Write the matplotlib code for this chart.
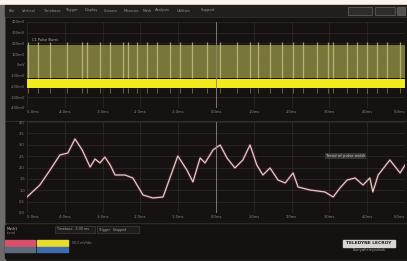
import matplotlib
matplotlib.use('Agg')
import matplotlib.pyplot as plt
from matplotlib.patches import Rectangle

# --- data (divisions) ---
# lower trace (math / trend)
trend_t = [0.00, 0.34, 0.61, 0.87, 1.08, 1.27, 1.46, 1.67, 1.80, 1.93, 2.06, 2.20,
           2.33, 2.59, 2.80, 3.07, 3.33, 3.60, 3.78, 3.99, 4.23, 4.39, 4.58, 4.71,
           4.92, 5.11, 5.29, 5.50, 5.71, 5.90, 6.08, 6.24, 6.43, 6.64, 6.83, 7.04,
           7.17, 7.49, 7.88, 8.10, 8.28, 8.47, 8.68, 8.89, 9.07, 9.15, 9.29, 9.60,
           9.87, 10.00]
trend_v = [1.41, 2.46, 3.78, 5.10, 5.27, 6.51, 5.54, 4.04, 4.75, 4.40, 4.92, 4.22,
           3.34, 3.34, 3.08, 1.58, 1.32, 1.41, 3.08, 5.01, 3.78, 2.73, 4.84, 4.40,
           5.54, 5.98, 4.84, 3.96, 4.66, 5.98, 4.22, 3.34, 3.96, 2.90, 2.64, 3.52,
           2.29, 2.02, 1.85, 1.41, 2.20, 2.90, 3.08, 2.46, 3.08, 1.85, 3.34, 4.66,
           3.52, 4.22]

# upper trace: bright pulse positions, envelope levels
pulse_t = [0.03, 0.29, 0.61, 1.06, 1.46, 1.59, 1.93, 2.20, 2.54, 2.67, 2.91, 3.17,
           3.44, 3.78, 4.05, 4.37, 4.76, 5.11, 5.56, 5.90, 6.11, 6.43, 6.75, 7.04,
           7.30, 7.67, 7.96, 8.10, 8.47, 8.73, 8.99, 9.26, 9.52, 9.87]
env_top = 5.86
env_high = 2.79
band_top = 2.70
band_bot = 1.86

xtick_labels = ['-5.0ms', '-4.0ms', '-3.0ms', '-2.0ms', '-1.0ms', '0.0ms',
                '1.0ms', '2.0ms', '3.0ms', '4.0ms', '5.0ms']
ytick_top = ['-400mV', '-300mV', '-200mV', '-100mV', '0mV', '100mV', '200mV', '300mV', '400mV']
ytick_bot = ['0.0', '0.5', '1.0', '1.5', '2.0', '2.5', '3.0', '3.5', '4.0']
menu_items = ['File', 'Vertical', 'Timebase', 'Trigger', 'Display', 'Cursors',
              'Measure', 'Math', 'Analysis', 'Utilities', 'Support']

BG = '#1b1817'
GRID = '#36312f'
TXT = '#8c8684'

fig = plt.figure(figsize=(4.07, 2.61), dpi=100, facecolor=BG)

# full-frame canvas in pixel coordinates for the instrument chrome
bg = fig.add_axes([0, 0, 1, 1])
bg.set_xlim(0, 407)
bg.set_ylim(261, 0)
bg.axis('off')
bg.add_patch(Rectangle((0, 0), 407, 5, color='#fbf3ee'))
bg.add_patch(Rectangle((0, 5), 5, 256, color='#6d6a6c'))
bg.add_patch(Rectangle((5, 5), 402, 11, color='#211e1d'))
x = 9
for item in menu_items:
    bg.text(x, 10.5, item, color='#9a9492', fontsize=2.6, va='center')
    x += 4 + len(item) * 2.2
bg.add_patch(Rectangle((348, 7), 24, 8, fc='#2e2b2a', ec='#6a6564', lw=0.5))
bg.add_patch(Rectangle((375, 7), 20, 8, fc='#2e2b2a', ec='#6a6564', lw=0.5))
bg.add_patch(Rectangle((397, 7), 8, 8, fc='#55504f', ec='#6a6564', lw=0.5))
bg.add_patch(Rectangle((5, 17), 402, 104, fc='#151211', ec='#3a3534', lw=0.5))
bg.add_patch(Rectangle((5, 121), 402, 102, fc='#151211', ec='#3a3534', lw=0.5))
bg.text(32, 41, 'C1 Pulse Burst', color='#b8b2a0', fontsize=2.6)

# bottom info panel
bg.add_patch(Rectangle((5, 225), 402, 33, color='#141110'))
bg.text(7, 228.5, 'Math1', color='#c8c2c0', fontsize=2.6, va='center')
bg.text(7, 233, 'trend', color='#8c8684', fontsize=2.4, va='center')
bg.add_patch(Rectangle((55, 226), 40, 7, fc='#1f1c1b', ec='#4a4544', lw=0.4))
bg.text(57, 229.5, 'Timebase  -5.00 ms', color='#a8a2a0', fontsize=2.3, va='center')
bg.add_patch(Rectangle((97, 226), 42, 7, fc='#1f1c1b', ec='#4a4544', lw=0.4))
bg.text(99, 229.5, 'Trigger   Stopped', color='#a8a2a0', fontsize=2.3, va='center')
bg.add_patch(Rectangle((5, 240), 30, 6, color='#d8506a'))
bg.add_patch(Rectangle((37, 240), 31, 6, color='#e6dc2c'))
bg.add_patch(Rectangle((5, 247), 30, 5, color='#5f6a7a'))
bg.add_patch(Rectangle((37, 247), 31, 5, color='#3f6cae'))
bg.text(72, 243, '50.0 mV/div', color='#8c8684', fontsize=2.3, va='center')
bg.add_patch(Rectangle((343, 240), 52, 7, color='#d8d4d2'))
bg.text(369, 243.5, 'TELEDYNE LECROY', color='#1b1817', fontsize=3.2,
        ha='center', va='center', weight='bold')
bg.text(369, 250, 'Everywhereyoulook', color='#a8a2a0', fontsize=2.4,
        ha='center', va='center')

# --- upper pane ---
ax1 = fig.add_axes([27 / 407, 1 - 108 / 261, 378 / 407, 86 / 261])
ax1.set_facecolor('none')
ax1.set_xlim(0, 10)
ax1.set_ylim(0, 8)
ax1.fill_between([0, 10], env_high, env_top, color='#85823e', alpha=0.9, lw=0, zorder=2)
ax1.vlines(pulse_t, env_high, env_top + 0.25, color='#cbc78e', lw=0.9, alpha=0.75, zorder=3)
ax1.vlines(pulse_t, band_bot - 0.5, band_bot, color='#8a8650', lw=0.5, zorder=3)
ax1.fill_between([0, 10], band_bot, band_top, color='#f2ea1a', lw=0, zorder=4)

# --- lower pane ---
ax2 = fig.add_axes([27 / 407, 1 - 213 / 261, 378 / 407, 91 / 261])
ax2.set_facecolor('none')
ax2.set_xlim(0, 10)
ax2.set_ylim(0, 8)
ax2.plot(trend_t, trend_v, color='#a02832', lw=2.2, alpha=0.35, zorder=3)
ax2.plot(trend_t, trend_v, color='#d6d0d0', lw=0.9, zorder=4)
ax2.text(7.9, 4.9, 'Trend of pulse width', color='#d0caca', fontsize=2.8,
         bbox=dict(fc='#3a3534', ec='none', pad=0.6), zorder=5)

for ax, ylabels in ((ax1, ytick_top), (ax2, ytick_bot)):
    ax.set_axisbelow(True)
    ax.set_xticks(range(11))
    ax.set_yticks(range(9))
    ax.grid(True, color=GRID, lw=0.4, zorder=1)
    ax.set_xticklabels(xtick_labels, fontsize=2.6, color=TXT)
    ax.set_yticklabels(ylabels, fontsize=2.6, color=TXT)
    ax.tick_params(length=0, pad=1.5)
    ticks = ax.get_xticklabels()
    ticks[0].set_ha('left')
    ticks[-1].set_ha('right')
    for s in ax.spines.values():
        s.set_visible(False)
    ax.axvline(5.0, color='#8a8584', lw=0.6, zorder=5)

fig.savefig('out.png', dpi=100, facecolor=BG)
